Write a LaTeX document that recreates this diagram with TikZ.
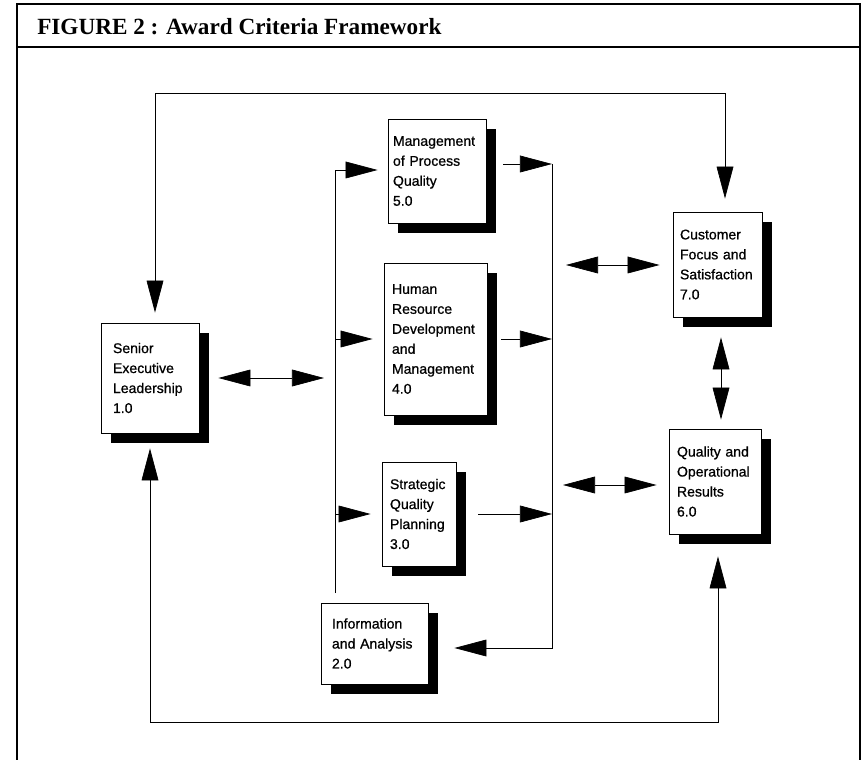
\documentclass[tikz,border=0pt]{standalone}
\usepackage{fontspec}
\setmainfont{Liberation Serif}
\newfontfamily\critfont{Liberation Sans}[FakeBold=0.7]
\usetikzlibrary{arrows.meta,shadows}
\hyphenpenalty=10000

\begin{document}
\begin{tikzpicture}[x=0.025cm, y=-0.025cm,
    crit/.style={draw, fill=white, line width=.6pt, align=left, inner ysep=0pt,
      font=\critfont\fontsize{10}{14.2}\selectfont,
      drop shadow={shadow xshift=.25cm, shadow yshift=-.25cm, fill=black, opacity=1}},
    flow/.style={line width=.5pt, -{Triangle[length=.8cm,width=.42cm]}},
    both/.style={line width=.5pt, {Triangle[length=.8cm,width=.42cm]}-{Triangle[length=.8cm,width=.42cm]}}]
      \useasboundingbox (0,0) rectangle (862,760);
      \draw[line width=.9pt] (17,760) -- (17,4) -- (860,4) -- (860,760);
      \draw[line width=.9pt] (17,47) -- (860,47);
      \node (title) at (37,35) [anchor=base west, inner sep=0pt, font=\bfseries\fontsize{16.5}{18}\selectfont] {FIGURE 2 : Award Criteria Framework};

      \node (S) at (150,378) [crit, minimum width=2.45cm, minimum height=2.75cm, inner xsep=.3cm, text width=1.85cm] {Senior\\Executive\\Leadership\\1.0};
      \node (M5) at (437,171) [crit, minimum width=2.45cm, minimum height=2.6cm, inner xsep=.125cm, text width=2.2cm] {Management\\of Process\\Quality\\5.0};
      \node (H4) at (435.5,339) [crit, minimum width=2.575cm, minimum height=3.8cm, inner xsep=.2cm, text width=2.175cm] {Human\\Resource\\Development\\and\\Management\\4.0};
      \node (S3) at (419,514) [crit, minimum width=1.85cm, minimum height=2.6cm, inner xsep=.2cm, text width=1.45cm] {Strategic\\Quality\\Planning\\3.0};
      \node (I2) at (374.5,643.5) [crit, minimum width=2.675cm, minimum height=2.025cm, inner xsep=.275cm, text width=2.125cm] {Information\\and Analysis\\2.0};
      \node (C7) at (717.5,264.5) [crit, minimum width=2.225cm, minimum height=2.625cm, inner xsep=.175cm, text width=1.875cm] {Customer\\Focus and\\Satisfaction\\7.0};
      \node (Q6) at (715,481.5) [crit, minimum width=2.3cm, minimum height=2.625cm, inner xsep=.2cm, text width=1.9cm] {Quality and\\Operational\\Results\\6.0};

      \coordinate (lt) at (335,170);
      \coordinate (lb) at (335,593);
      \coordinate (rt) at (552,164);
      \coordinate (rb) at (552,648);
      \coordinate (tl) at (155,93);
      \coordinate (tr) at (725,93);
      \coordinate (bl) at (150,722);
      \coordinate (br) at (718,722);
      \coordinate (c7l) at (566,265);
      \coordinate (q6l) at (563,485);
      \coordinate (vm) at (721,300);

      \draw[both, shorten <=.25cm, shorten >=.325cm] (tl |- S.north) -- (tl) -- (tr) -- (tr |- C7.north);
      \draw[both, shorten <=.375cm, shorten >=.55cm] (bl |- S.south) -- (bl) -- (br) -- (br |- Q6.south);
      \draw[both, shorten <=.475cm, shorten >=.275cm] (S.east) -- (S.east -| lt);
      \draw[flow, shorten >=.25cm] (lb) -- (lt) -- (lt -| M5.west);
      \draw[flow, shorten >=.275cm] (H4.west -| lt) -- (H4.west);
      \draw[flow, shorten >=.275cm] (S3.west -| lt) -- (S3.west);
      \draw[flow, shorten <=.425cm] (M5.east |- rt) -- (rt);
      \draw[flow, shorten <=.35cm] (H4.east) -- (H4.east -| rt);
      \draw[flow, shorten <=.55cm] (S3.east) -- (S3.east -| rt);
      \draw[flow, shorten >=.65cm] (rt) -- (rb) -- (rb -| I2.east);
      \draw[both, shorten >=.325cm] (c7l) -- (c7l -| C7.west);
      \draw[both, shorten >=.3cm] (q6l) -- (q6l -| Q6.west);
      \draw[both, shorten <=.5cm, shorten >=.225cm] (vm |- C7.south) -- (vm |- Q6.north);
    \end{tikzpicture}
\end{document}
